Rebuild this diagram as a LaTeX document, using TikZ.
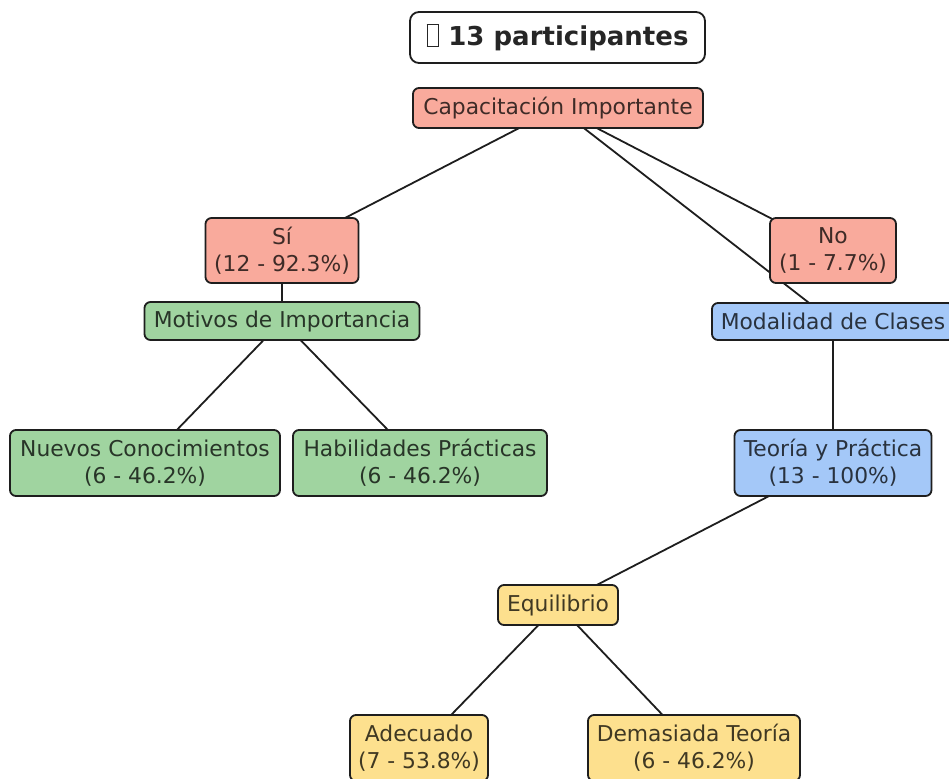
\documentclass[tikz,border=0pt]{standalone}
\usepackage{fontspec}
\setmainfont{DejaVu Sans}
\usetikzlibrary{backgrounds}
\definecolor{salmonf}{RGB}{249,170,156}
\definecolor{greenf}{RGB}{160,212,160}
\definecolor{bluef}{RGB}{164,200,248}
\definecolor{yellowf}{RGB}{253,224,142}
\definecolor{edgec}{RGB}{30,30,30}
\tikzset{
  box/.style={draw=edgec, line width=1.8pt, rounded corners=6pt, inner sep=0pt,
    align=center, font=\fontsize{21.8}{27}\selectfont},
  sbox/.style={box, fill=salmonf, text=salmonf!25!black},
  gbox/.style={box, fill=greenf, text=greenf!25!black},
  bbox/.style={box, fill=bluef, text=bluef!25!black},
  ybox/.style={box, fill=yellowf, text=yellowf!25!black},
  link/.style={draw=edgec, line width=1.8pt},
  titlebox/.style={draw=edgec, line width=1.8pt, rounded corners=9pt, fill=white,
    inner sep=0pt, font=\fontsize{26}{30}\selectfont\bfseries, text=black!85}
}
\begin{document}
\begin{tikzpicture}[x=1pt,y=-1pt]
\useasboundingbox (0,0) rectangle (949,778);
\node[titlebox, minimum width=295pt, minimum height=51pt] (title) at (557.5,37.5)
  {{\fboxsep=0pt\fboxrule=1.4pt\fbox{\rule{0pt}{21pt}\hspace{10pt}}}\ 13 participantes};
\node[sbox, minimum width=290pt, minimum height=40pt] (cap) at (558,108) {Capacitación Importante};
\node[sbox, minimum width=153pt, minimum height=65pt] (si) at (282,250.5) {Sí\\(12 - 92.3\%)};
\node[sbox, minimum width=126pt, minimum height=65pt] (no) at (833,250.5) {No\\(1 - 7.7\%)};
\node[gbox, minimum width=275pt, minimum height=38pt] (mot) at (282,321) {Motivos de Importancia};
\node[bbox, minimum width=242pt, minimum height=37pt] (mod) at (833,321.5) {Modalidad de Clases};
\node[gbox, minimum width=270pt, minimum height=66pt] (nue) at (145,463) {Nuevos Conocimientos\\(6 - 46.2\%)};
\node[gbox, minimum width=254pt, minimum height=66pt] (hab) at (420,463) {Habilidades Prácticas\\(6 - 46.2\%)};
\node[bbox, minimum width=197pt, minimum height=66pt] (teo) at (833,463) {Teoría y Práctica\\(13 - 100\%)};
\node[ybox, minimum width=120pt, minimum height=40pt] (equ) at (558,605) {Equilibrio};
\node[ybox, minimum width=138pt, minimum height=66pt] (ade) at (419,748) {Adecuado\\(7 - 53.8\%)};
\node[ybox, minimum width=212pt, minimum height=66pt] (dem) at (694,748) {Demasiada Teoría\\(6 - 46.2\%)};
\begin{scope}[on background layer]
  \fill[white] (0,0) rectangle (949,778);
  \draw[link] (cap.center) -- (si.center);
  \draw[link] (cap.center) -- (no.center);
  \draw[link] (cap.center) -- (mod.center);
  \draw[link] (si.center) -- (mot.center);
  \draw[link] (mot.center) -- (nue.center);
  \draw[link] (mot.center) -- (hab.center);
  \draw[link] (mod.center) -- (teo.center);
  \draw[link] (teo.center) -- (equ.center);
  \draw[link] (equ.center) -- (ade.center);
  \draw[link] (equ.center) -- (dem.center);
\end{scope}
\end{tikzpicture}
\end{document}
